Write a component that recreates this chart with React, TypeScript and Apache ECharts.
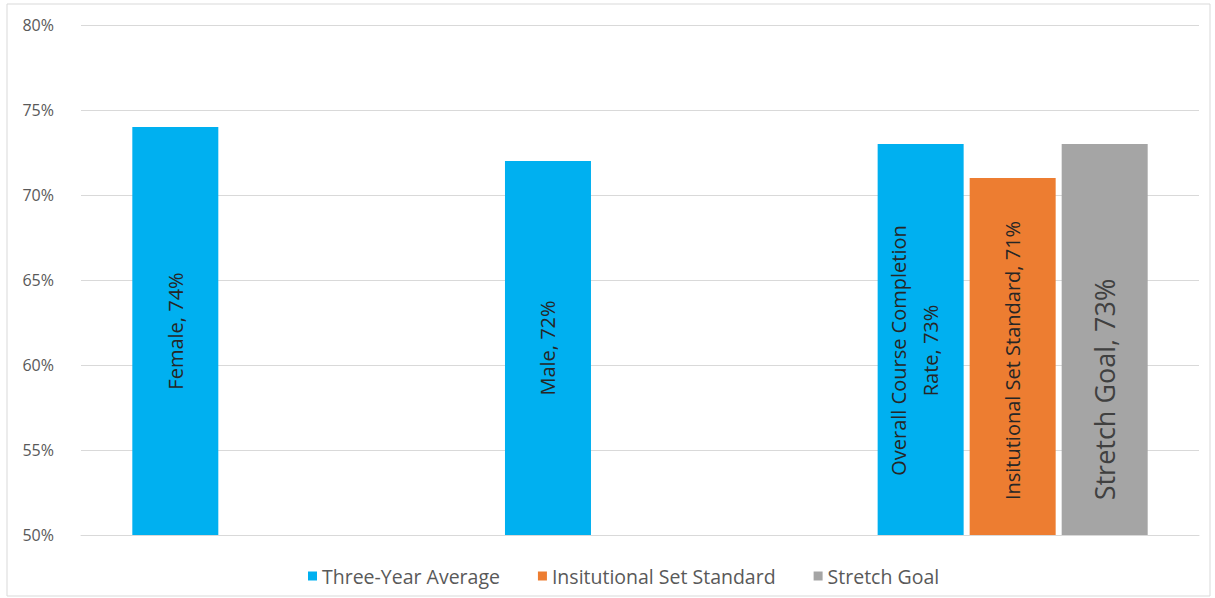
import React, { useEffect, useRef } from "react";
import * as echarts from "echarts";

const categories = ["Female", "Male", "Overall Course Completion Rate"];
const barLabels = ["Female", "Male", "Overall Course Completion\nRate"];
const threeYearAverage = [74, 72, 73];
const setStandard = [null, null, 71];
const stretchGoal = [null, null, 73];
const seriesNames = ["Three-Year Average", "Insitutional Set Standard", "Stretch Goal"];

const FONT = "'Open Sans', Lato, sans-serif";

export default function App() {
  const ref = useRef<HTMLDivElement>(null);

  useEffect(() => {
    if (!ref.current) return;
    const chart = echarts.init(ref.current, null, { renderer: "svg" });
    const barCommon = {
      type: "bar" as const,
      barWidth: 86,
      barGap: "7%",
    };
    // Label offsets are given in the rotated text frame: [along text, across text]
    const averageData = threeYearAverage.map((v, i) =>
      i === 2
        ? { value: v, label: { offset: [-11, -6], lineHeight: 32 } }
        : { value: v }
    );
    chart.setOption({
      animation: false,
      backgroundColor: "#ffffff",
      textStyle: { fontFamily: FONT },
      graphic: [
        {
          type: "rect",
          shape: { x: 7, y: 4, width: 1203, height: 592 },
          style: { fill: "none", stroke: "#d9d9d9", lineWidth: 1 },
          silent: true,
        },
      ],
      grid: { left: 81, right: 16, top: 25, bottom: 63 },
      legend: {
        data: seriesNames,
        top: 561,
        left: 303,
        icon: "rect",
        itemWidth: 9,
        itemHeight: 9,
        itemGap: 38,
        textStyle: { fontSize: 19.5, color: "#595959", fontFamily: FONT },
      },
      xAxis: {
        type: "category",
        data: categories,
        axisLine: { lineStyle: { color: "#d9d9d9" } },
        axisTick: { show: false },
        axisLabel: { show: false },
      },
      yAxis: {
        type: "value",
        min: 50,
        max: 80,
        interval: 5,
        axisLabel: {
          formatter: "{value}%",
          fontSize: 16,
          color: "#595959",
          margin: 27,
          fontFamily: FONT,
        },
        splitLine: { lineStyle: { color: "#d9d9d9" } },
        axisLine: { show: false },
        axisTick: { show: false },
      },
      series: [
        {
          ...barCommon,
          name: seriesNames[0],
          data: averageData,
          itemStyle: { color: "#00B0F0" },
          label: {
            show: true,
            position: "inside",
            rotate: 90,
            fontSize: 20,
            color: "#262626",
            fontFamily: FONT,
            formatter: (p: any) => `${barLabels[p.dataIndex]}, ${p.value}%`,
          },
        },
        {
          ...barCommon,
          name: seriesNames[1],
          data: setStandard,
          itemStyle: { color: "#ED7D31" },
          label: {
            show: true,
            position: "inside",
            rotate: 90,
            fontSize: 20,
            color: "#262626",
            fontFamily: FONT,
            offset: [-4, 0],
            formatter: (p: any) => `${seriesNames[1]}, ${p.value}%`,
          },
        },
        {
          ...barCommon,
          name: seriesNames[2],
          data: stretchGoal,
          itemStyle: { color: "#A5A5A5" },
          label: {
            show: true,
            position: "inside",
            rotate: 90,
            fontSize: 27,
            color: "#404040",
            fontFamily: FONT,
            offset: [-50, 0],
            formatter: (p: any) => `${seriesNames[2]}, ${p.value}%`,
          },
        },
      ],
    });
    return () => chart.dispose();
  }, []);

  return (
    <div
      ref={ref}
      style={{ position: "absolute", left: 0, top: 0, width: 1215, height: 598 }}
    />
  );
}
